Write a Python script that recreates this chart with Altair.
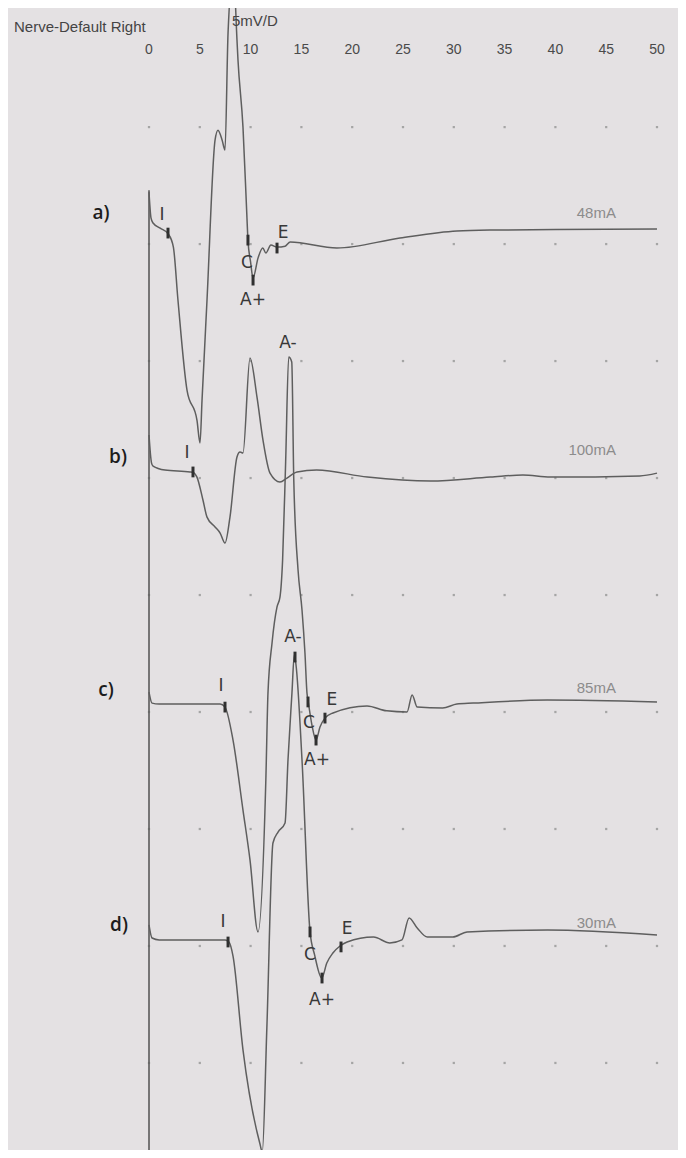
import altair as alt
import pandas as pd

# ---------------- data ----------------
# time in ms, amplitude in mV relative to each trace's own baseline
a_ms = [0.0, 0.2, 0.4, 1.1, 1.9, 2.4, 2.85, 3.74, 4.72, 5.02, 5.22, 5.71, 6.5, 6.79, 7.2, 7.48,
        7.78, 8.3, 8.66, 8.76, 9.25, 9.65, 9.74, 10.0, 10.24, 10.73, 11.2, 11.5, 12.0, 12.6, 13.4,
        13.9, 18.5, 24.7, 30.3, 33.6, 40.0, 50.0]
a_mv = [2.22, 1.11, 0.90, 0.68, 0.43, -0.13, -2.39, -6.24, -7.52, -8.50, -6.67, -2.39, 4.44, 4.87,
        4.44, 4.02, 9.02, 11.7, 8.72, 7.86, 5.0, 1.03, 0.17, -0.77, -1.45, -0.60, -0.17, -0.38,
        -0.04, -0.13, -0.09, 0.09, -0.17, 0.26, 0.56, 0.60, 0.62, 0.64]

b_ms = [0.0, 0.25, 0.4, 1.57, 4.04, 4.33, 4.72, 5.31, 5.71, 6.5, 7.0, 7.48, 7.97, 8.66, 8.96, 9.25,
        9.94, 10.63, 11.22, 11.91, 12.89, 13.58, 14.57, 16.5, 21.5, 27.7, 33.6, 36.8, 39.5, 48.3, 50.0]
b_mv = [1.84, 0.64, 0.51, 0.34, 0.26, 0.24, 0.04, -0.94, -1.67, -2.09, -2.35, -2.78, -1.67, 0.90,
        1.11, 1.07, 5.13, 3.46, 1.62, 0.21, -0.17, 0.0, 0.26, 0.34, 0.04, -0.13, 0.04, 0.13, 0.04,
        0.09, 0.21]

c_ms = [0.0, 0.3, 1.0, 7.0, 7.48, 8.27, 9.25, 9.94, 10.73, 11.5, 11.71, 12.11, 12.6, 12.89, 13.15,
        13.45, 13.75, 14.05, 14.25, 14.67, 15.06, 15.35, 15.55, 15.65, 16.04, 16.44, 16.83, 17.32,
        18.11, 21.46, 23.4, 25.4, 25.9, 26.4, 28.9, 30.3, 31.9, 39.2, 50.0]
c_mv = [0.85, 0.38, 0.34, 0.34, 0.21, -1.20, -4.19, -6.32, -9.40, -2.91, 0.81, 2.95, 4.49, 4.91,
        6.50, 10.7, 15.17, 14.96, 9.92, 6.07, 4.36, 2.52, 0.81, 0.51, -0.56, -1.20, -0.64, -0.26,
        -0.04, 0.26, 0.05, 0.0, 0.73, 0.21, 0.17, 0.34, 0.38, 0.51, 0.43]

d_ms = [0.0, 0.3, 1.0, 7.5, 7.87, 8.27, 9.25, 10.9, 11.15, 11.6, 12.2, 12.7, 13.39, 13.68, 14.07,
        14.3, 14.47, 15.06, 15.85, 16.3, 17.0, 17.5, 18.1, 18.8, 19.5, 22.1, 23.7, 24.9, 25.6, 26.4,
        27.4, 29.9, 31.3, 39.2, 50.0]
d_mv = [0.90, 0.34, 0.26, 0.26, 0.17, -0.43, -4.44, -8.42, -8.80, -3.50, 4.40, 4.87, 5.26, 7.95,
        10.81, 12.44, 12.01, 7.95, 0.60, -0.38, -1.37, -0.73, -0.30, 0.0, 0.17, 0.38, 0.13, 0.26,
        1.20, 0.77, 0.38, 0.38, 0.60, 0.68, 0.47]

trace_ids = ["a", "b", "c", "d"]
trace_names = ["a)", "b)", "c)", "d)"]
trace_currents = ["48mA", "100mA", "85mA", "30mA"]
trace_offsets = [30, 20, 10, 0]          # mV (two 5 mV divisions apart)

# latency markers: tick on the trace and its letter
marker_trace = ["a", "a", "a", "a", "b", "c", "c", "c", "c", "c", "d", "d", "d", "d", "d"]
marker_text = ["I", "C", "A+", "E", "I", "I", "A-", "C", "A+", "E", "I", "A-", "C", "A+", "E"]
marker_ms = [1.87, 9.74, 10.24, 12.60, 4.33, 7.48, None, 15.65, 16.44, 17.32, 7.78, 14.37, 15.85, 17.03, 18.90]
marker_mv = [0.47, 0.17, -1.54, -0.17, 0.26, 0.21, None, 0.43, -1.20, -0.26, 0.17, 12.35, 0.60, -1.37, -0.04]
label_ms = [1.28, 9.65, 10.24, 13.19, 3.74, 7.09, 13.68, 15.75, 16.54, 18.01, 7.28, 14.17, 15.85, 17.03, 19.49]
label_mv = [1.24, -0.81, -2.39, 0.47, 1.07, 1.11, 15.77, -0.47, -2.05, 0.51, 1.03, 13.21, -0.38, -2.31, 0.73]

name_ms = [-4.72, -3.05, -4.23, -2.95]
name_mv = [1.32, 0.90, 0.94, 0.90]
current_ms = [45.96, 45.96, 45.96, 45.96]
current_mv = [1.32, 1.20, 1.03, 0.98]

tick_ms = [0, 5, 10, 15, 20, 25, 30, 35, 40, 45, 50]
tick_labels = ["0", "5", "10", "15", "20", "25", "30", "35", "40", "45", "50"]
grid_ms = [0, 5, 10, 15, 20, 25, 30, 35, 40, 45, 50]
grid_mv = [-5, 0, 5, 10, 15, 20, 25, 30, 35]

header_text = ["Nerve-Default Right", "5mV/D"]
header_ms = [-13.29, 8.17]
header_mv = [39.27, 39.53]
tick_row_mv = 38.29
stim_line_top, stim_line_bottom = 32.3, -8.8

# ---------------- build tables ----------------
series = {"a": (a_ms, a_mv), "b": (b_ms, b_mv), "c": (c_ms, c_mv), "d": (d_ms, d_mv)}
offs = dict(zip(trace_ids, trace_offsets))
rows = []
for tid in trace_ids:
    ts, mvs = series[tid]
    for i, (t, m) in enumerate(zip(ts, mvs)):
        rows.append({"trace": tid, "i": i, "t": t, "v": m + offs[tid]})
traces = pd.DataFrame(rows)

mk = pd.DataFrame({"trace": marker_trace, "text": marker_text, "t": marker_ms, "mv": marker_mv,
                   "lt": label_ms, "lmv": label_mv})
mk["off"] = mk["trace"].map(offs)
mk["lv"] = mk["lmv"] + mk["off"]
ticks = mk.dropna(subset=["t"]).copy()
ticks["v1"] = ticks["mv"] + ticks["off"] + 0.23
ticks["v2"] = ticks["mv"] + ticks["off"] - 0.23

names = pd.DataFrame({"text": trace_names, "t": name_ms, "v": [m + o for m, o in zip(name_mv, trace_offsets)]})
currents = pd.DataFrame({"text": trace_currents, "t": current_ms,
                         "v": [m + o for m, o in zip(current_mv, trace_offsets)]})
grid = pd.DataFrame([{"t": t, "v": v} for t in grid_ms for v in grid_mv])
tick_df = pd.DataFrame({"t": tick_ms, "text": tick_labels, "v": [tick_row_mv] * len(tick_ms)})
header = pd.DataFrame({"t": header_ms, "v": header_mv, "text": header_text})
stim = pd.DataFrame({"t": [0], "v1": [stim_line_top], "v2": [stim_line_bottom]})

# ---------------- chart ----------------
W, H = 670, 1142
xs = alt.Scale(domain=[-13.878, 52.067], nice=False, zero=False)
ys = alt.Scale(domain=[-8.72, 40.09], nice=False, zero=False)


def X(f):
    return alt.X(f, type="quantitative", scale=xs, axis=None)


def Y(f):
    return alt.Y(f, type="quantitative", scale=ys, axis=None)


dots = alt.Chart(grid).mark_square(size=5, color="#9a9a9a", opacity=0.85).encode(x=X("t"), y=Y("v"))
stim_line = alt.Chart(stim).mark_rule(color="#5a5a5a", strokeWidth=1.6).encode(
    x=X("t"), y=Y("v1"), y2="v2")
lines = alt.Chart(traces).mark_line(color="#5e5e5e", strokeWidth=1.5, clip=True,
                                    interpolate="monotone").encode(
    x=X("t"), y=Y("v"), detail="trace:N", order="i:Q")
tick_marks = alt.Chart(ticks).mark_rule(color="#303030", strokeWidth=3, strokeCap="butt").encode(
    x=X("t"), y=Y("v1"), y2="v2")
marker_labels = alt.Chart(mk).mark_text(font="DejaVu Sans", fontSize=17, color="#383838").encode(
    x=X("lt"), y=Y("lv"), text="text:N")
name_labels = alt.Chart(names).mark_text(font="Open Sans", fontSize=19, color="#1c1c1c",
                                         fontWeight=600).encode(x=X("t"), y=Y("v"), text="text:N")
current_labels = alt.Chart(currents).mark_text(font="Liberation Sans Narrow, Liberation Sans", fontSize=15,
                                               color="#8c8c8c", align="right").encode(
    x=X("t"), y=Y("v"), text="text:N")
tick_text = alt.Chart(tick_df).mark_text(font="Liberation Sans Narrow, Liberation Sans", fontSize=14,
                                         color="#4a4a4a").encode(x=X("t"), y=Y("v"), text="text:N")
header_text_l = alt.Chart(header).mark_text(font="Liberation Sans Narrow, Liberation Sans", fontSize=15,
                                            color="#444444", align="left").encode(
    x=X("t"), y=Y("v"), text="text:N")

chart = alt.layer(dots, stim_line, lines, tick_marks, marker_labels, name_labels, current_labels,
                  tick_text, header_text_l).properties(
    width=W, height=H, padding=0, autosize=alt.AutoSizeParams(type="none"),
    background="#e4e1e3",
).configure_view(stroke=None)

chart.save("out.html", embed_options={"renderer": "svg", "actions": False})
